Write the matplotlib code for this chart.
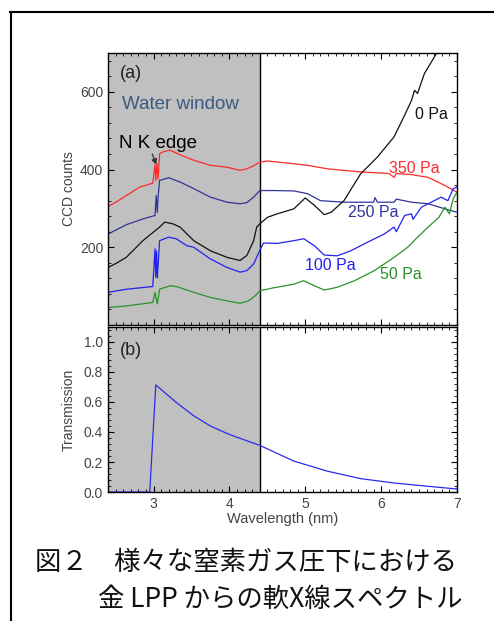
import matplotlib
matplotlib.use("Agg")
import matplotlib.pyplot as plt
from matplotlib.ticker import MultipleLocator
from matplotlib.lines import Line2D

plt.rcParams['font.family'] = ['Liberation Sans', 'DejaVu Sans']

# ---- data ----
x_350 = [2.40, 2.52, 2.64, 2.82, 2.99, 3.02, 3.03, 3.045, 3.06, 3.08, 3.13, 3.22, 3.35, 3.53, 3.75, 3.97, 4.14, 4.23, 4.32, 4.40,
         4.50, 4.85, 5.03, 5.29, 5.50, 5.73, 6.10, 6.17, 6.20, 6.40, 6.62, 6.84, 7.00]
y_350 = [305, 318, 333, 355, 365, 412, 372, 415, 375, 441, 446, 450, 438, 424, 411, 406, 398, 402, 410, 419,
         422, 415, 411, 402, 398, 394, 390, 380, 390, 387, 380, 359, 342]

x_250 = [2.40, 2.52, 2.64, 2.86, 3.02, 3.035, 3.05, 3.06, 3.08, 3.15, 3.20, 3.35, 3.53, 3.75, 3.97, 4.14, 4.23, 4.32, 4.40,
         4.59, 4.85, 5.03, 5.20, 5.51, 5.90, 5.92, 5.95, 6.17, 6.20, 6.40, 6.62, 6.84, 7.00]
y_250 = [234, 246, 258, 273, 282, 333, 290, 330, 372, 376, 379, 368, 351, 329, 316, 312, 315, 329, 346,
         346, 345, 338, 320, 316, 316, 328, 316, 316, 324, 316, 312, 299, 290]

x_0 = [2.40, 2.52, 2.64, 2.86, 3.08, 3.15, 3.26, 3.35, 3.53, 3.75, 3.97, 4.14, 4.23, 4.32, 4.36, 4.40, 4.50, 4.63, 4.85, 5.00,
       5.12, 5.25, 5.34, 5.51, 5.73, 5.95, 6.17, 6.31, 6.40, 6.44, 6.48, 6.57, 6.73, 6.80]
y_0 = [148, 160, 174, 217, 252, 265, 260, 252, 217, 191, 174, 166, 179, 217, 252, 260, 277, 286, 299, 327,
       308, 284, 290, 320, 389, 432, 484, 540, 578, 604, 596, 647, 699, 730]

x_100 = [2.40, 2.64, 2.99, 3.02, 3.03, 3.04, 3.05, 3.08, 3.20, 3.30, 3.44, 3.53, 3.75, 3.97, 4.14, 4.23, 4.32, 4.40, 4.45,
         4.63, 4.85, 4.98, 5.12, 5.25, 5.42, 5.60, 5.82, 6.04, 6.17, 6.20, 6.31, 6.40, 6.42, 6.53, 6.66, 6.79, 6.88, 6.95, 7.00]
y_100 = [84, 92, 99, 196, 123, 190, 121, 217, 226, 222, 204, 200, 170, 148, 136, 140, 157, 192, 211,
         210, 217, 222, 204, 180, 178, 191, 213, 234, 252, 240, 282, 286, 272, 303, 316, 329, 320, 351, 355]

x_50 = [2.40, 2.64, 2.99, 3.02, 3.05, 3.08, 3.22, 3.30, 3.53, 3.75, 3.97, 4.14, 4.25, 4.34, 4.40, 4.59, 4.85, 4.98,
        5.12, 5.25, 5.42, 5.65, 5.91, 6.04, 6.17, 6.35, 6.48, 6.62, 6.76, 6.84, 6.90, 6.95, 7.00]
y_50 = [45, 49, 58, 84, 54, 92, 101, 99, 84, 71, 62, 56, 62, 75, 88, 96, 105, 114,
        101, 90, 97, 114, 140, 157, 174, 200, 226, 252, 277, 303, 286, 325, 342]

x_trans = [2.40, 2.95, 3.03, 3.30, 3.53, 3.75, 3.97, 4.10, 4.40, 4.85, 5.29, 5.73, 6.17, 6.62, 7.00]
y_trans = [0.0, 0.0, 0.714, 0.597, 0.508, 0.44, 0.39, 0.365, 0.311, 0.206, 0.139, 0.089, 0.060, 0.038, 0.020]

series = [
    ("350 Pa", x_350, y_350, "#ff2a2a", (6.11, 404)),
    ("250 Pa", x_250, y_250, "#33339a", (5.56, 290)),
    ("0 Pa", x_0, y_0, "#111111", (6.45, 542)),
    ("100 Pa", x_100, y_100, "#2222ee", (5.00, 153)),
    ("50 Pa", x_50, y_50, "#2a922a", (5.98, 131)),
]

tick_color = "#444444"

fig = plt.figure(figsize=(4.94, 6.21), dpi=100)
axa = fig.add_axes([108/494, 1-325/621, (457-108)/494, (325-53)/621])
axb = fig.add_axes([108/494, 1-492/621, (457-108)/494, (492-327)/621])

for ax in (axa, axb):
    ax.axvspan(2.4, 4.4, color="#c0c0c0", zorder=0, lw=0)
    ax.axvline(4.4, color="black", lw=1.0, zorder=1)
    ax.set_xlim(2.4, 7.0)
    ax.xaxis.set_major_locator(MultipleLocator(1))
    ax.xaxis.set_minor_locator(MultipleLocator(0.1))
    ax.tick_params(which="both", direction="in", top=True, right=True,
                   labelsize=10, labelcolor=tick_color, color="black")
    ax.tick_params(which="major", length=4, width=0.8)
    ax.tick_params(which="minor", length=2, width=0.6)
    for s in ax.spines.values():
        s.set_linewidth(1.0)

# panel (a)
for name, xs, ys, c, pos in series:
    axa.plot(xs, ys, color=c, lw=0.9, zorder=2)
    axa.text(pos[0], pos[1], name, color=c, fontsize=11.5, va="center", ha="left")
axa.set_ylim(0, 700)
axa.set_yticks([200, 400, 600])
axa.yaxis.set_minor_locator(MultipleLocator(40))
axa.tick_params(labelbottom=False)
axa.set_ylabel("CCD counts", fontsize=10, color=tick_color, labelpad=3)
axa.text(0.035, 0.925, "(a)", transform=axa.transAxes, fontsize=13, color="#222222", va="center")
axa.text(0.04, 0.81, "Water window", transform=axa.transAxes, fontsize=13.5, color="#3a5a80", va="center")
axa.text(2.55, 445, "N K edge", fontsize=13.5, color="black", va="bottom")
axa.annotate("", xy=(3.05, 406), xytext=(2.97, 447),
             arrowprops=dict(arrowstyle="-|>", color="#333333", lw=0.9, mutation_scale=8))

# panel (b)
axb.plot(x_trans, y_trans, color="#2a2aee", lw=0.9, zorder=2)
axb.set_ylim(0, 1.1)
axb.set_yticks([0.0, 0.2, 0.4, 0.6, 0.8, 1.0])
axb.set_yticklabels(["0.0", "0.2", "0.4", "0.6", "0.8", "1.0"])
axb.yaxis.set_minor_locator(MultipleLocator(0.04))
axb.set_ylabel("Transmission", fontsize=10, color=tick_color, labelpad=6)
axb.set_xlabel("Wavelength (nm)", fontsize=10.5, color=tick_color, labelpad=1)
axb.text(0.035, 0.86, "(b)", transform=axb.transAxes, fontsize=13, color="#222222", va="center")

# frame lines
fig.add_artist(Line2D([10.5/494, 10.5/494], [0, 1-12/621], transform=fig.transFigure, color="black", lw=1.5))
fig.add_artist(Line2D([10/494, 1], [1-12/621, 1-12/621], transform=fig.transFigure, color="black", lw=1.5))

# caption
cjk = ['Noto Sans CJK JP', 'DejaVu Sans']
fig.text(35/494, 1-562/621, "図２　様々な窒素ガス圧下における", family=cjk, fontsize=19,
         va="center", ha="left", color="#111111")
fig.text(98/494, 1-599/621, "金 LPP からの軟X線スペクトル", family=cjk, fontsize=19,
         va="center", ha="left", color="#111111")

fig.savefig("out.png", dpi=100)
